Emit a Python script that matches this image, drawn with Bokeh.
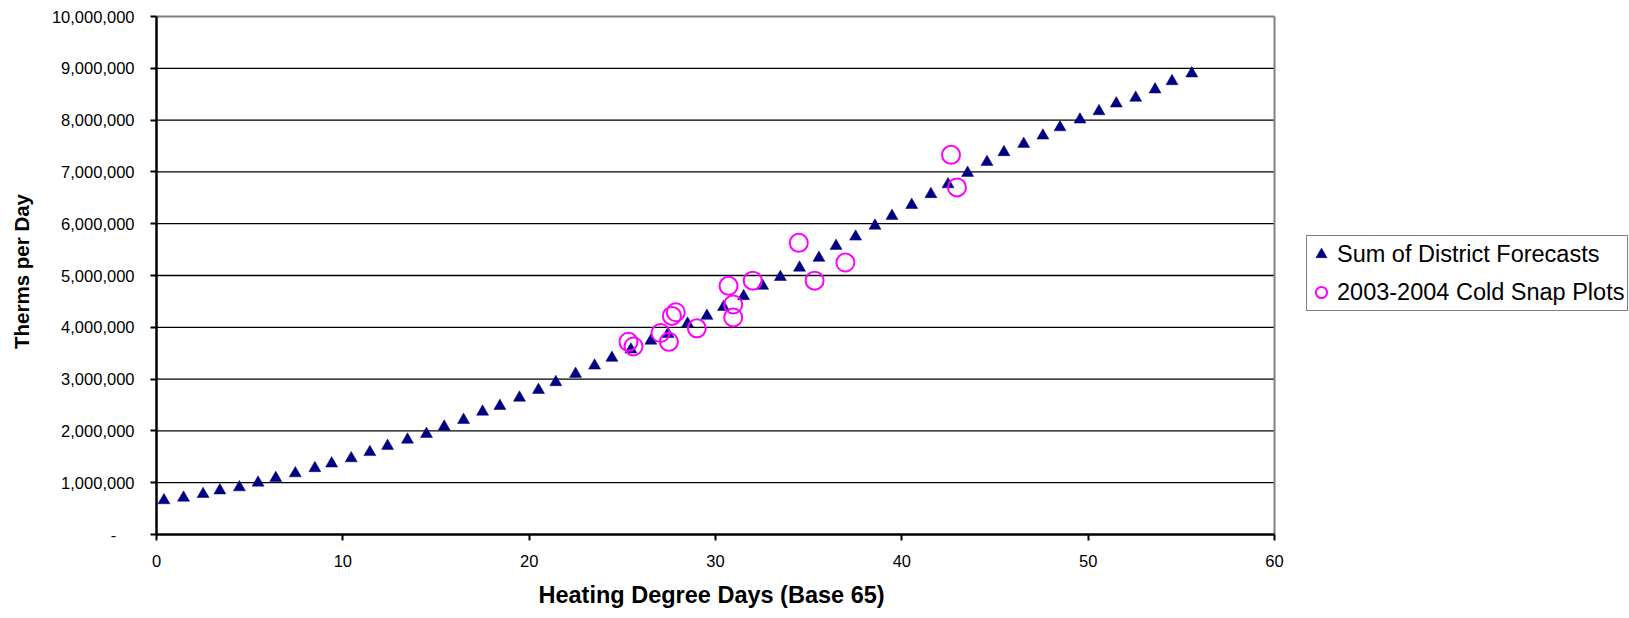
from bokeh.plotting import figure
from bokeh.models import FixedTicker, Legend, LegendItem, Title
from bokeh.embed import file_html
from bokeh.resources import INLINE

# Sum of district forecasts: heating degree days vs. therms per day
hdd_forecast = [0.4, 1.45, 2.5, 3.4, 4.45, 5.45, 6.4, 7.45, 8.5, 9.4,
                10.45, 11.45, 12.4, 13.47, 14.49, 15.44, 16.48, 17.5, 18.43, 19.48,
                20.5, 21.43, 22.49, 23.51, 24.44, 25.46, 26.53, 27.45, 28.5, 29.54,
                30.43, 31.51, 32.53, 33.48, 34.51, 35.55, 36.47, 37.52, 38.56, 39.47,
                40.53, 41.56, 42.48, 43.53, 44.57, 45.48, 46.54, 47.57, 48.49, 49.56,
                50.58, 51.51, 52.55, 53.59, 54.5, 55.56]
therms_forecast = [660_000, 710_000, 780_000, 850_000, 910_000, 1_000_000, 1_090_000, 1_180_000, 1_280_000, 1_370_000,
                   1_470_000, 1_590_000, 1_710_000, 1_830_000, 1_940_000, 2_080_000, 2_210_000, 2_370_000, 2_480_000, 2_640_000,
                   2_790_000, 2_940_000, 3_100_000, 3_260_000, 3_410_000, 3_570_000, 3_740_000, 3_870_000, 4_070_000, 4_220_000,
                   4_390_000, 4_600_000, 4_800_000, 4_970_000, 5_150_000, 5_340_000, 5_570_000, 5_750_000, 5_960_000, 6_150_000,
                   6_360_000, 6_570_000, 6_760_000, 6_980_000, 7_190_000, 7_380_000, 7_540_000, 7_700_000, 7_860_000, 8_010_000,
                   8_170_000, 8_320_000, 8_430_000, 8_590_000, 8_750_000, 8_900_000]

# 2003-2004 cold snap observations
hdd_snap = [25.33, 25.6, 27.05, 27.5, 27.66, 27.87, 29.0, 30.7, 30.95, 30.95,
            32.0, 34.47, 35.32, 36.97, 42.64, 42.96]
therms_snap = [3_720_000, 3_630_000, 3_890_000, 3_720_000, 4_220_000, 4_290_000, 3_980_000, 4_800_000, 4_440_000, 4_190_000,
               4_900_000, 5_630_000, 4_900_000, 5_250_000, 7_330_000, 6_700_000]

x_ticks = [0, 10, 20, 30, 40, 50, 60]
y_ticks = [0, 1_000_000, 2_000_000, 3_000_000, 4_000_000, 5_000_000,
           6_000_000, 7_000_000, 8_000_000, 9_000_000, 10_000_000]
y_tick_labels = ["-\u00a0\u00a0\u00a0\u00a0", "1,000,000", "2,000,000", "3,000,000", "4,000,000", "5,000,000",
                 "6,000,000", "7,000,000", "8,000,000", "9,000,000", "10,000,000"]

FONT = "Liberation Sans"
W, H = 1629, 618

# Plot-area geometry (pixels): the chart area runs from x=0..60 and y=0..10M,
# the frame itself extends further right so the legend can sit beside it.
LEFT, RIGHT_AT_MAX = 156, 1274
TOP_AT_MAX, BOTTOM = 16, 534
FRAME_TOP = 8
x_min, x_max = x_ticks[0], x_ticks[-1]
y_min, y_max = y_ticks[0], y_ticks[-1]
px_per_x = (RIGHT_AT_MAX - LEFT) / (x_max - x_min)
px_per_y = (BOTTOM - TOP_AT_MAX) / (y_max - y_min)
x_end = x_min + (W - LEFT) / px_per_x
y_end = y_min + (BOTTOM - FRAME_TOP) / px_per_y

p = figure(width=W, height=H, x_range=(x_min, x_end), y_range=(y_min, y_end),
           output_backend="svg", toolbar_location=None,
           min_border_left=LEFT, min_border_top=FRAME_TOP, min_border_bottom=H - BOTTOM, min_border_right=0)
p.background_fill_color = "white"
p.border_fill_color = "white"
p.outline_line_color = None
p.grid.visible = False

# horizontal gridlines across the chart area only
grid_y = y_ticks[1:-1]
p.segment(x0=[x_min] * len(grid_y), x1=[x_max] * len(grid_y), y0=grid_y, y1=grid_y,
          line_color="black", line_width=1.3)
# gray border along the top and right of the chart area
p.segment(x0=[x_min, x_max], x1=[x_max, x_max], y0=[y_max, y_min], y1=[y_max, y_max],
          line_color="#808080", line_width=2)

# x axis
p.xaxis.ticker = FixedTicker(ticks=x_ticks)
p.xaxis.bounds = (x_min, x_max)
p.xaxis.major_label_standoff = 14

# y axis
p.yaxis.ticker = FixedTicker(ticks=y_ticks)
p.yaxis.bounds = (y_min, y_max)
p.yaxis.major_label_overrides = {float(t): lab for t, lab in zip(y_ticks, y_tick_labels)}
p.yaxis.axis_label = "Therms per Day"
p.yaxis.axis_label_standoff = 16
p.yaxis.major_label_standoff = 16

for ax in (p.xaxis[0], p.yaxis[0]):
    ax.axis_line_color = "black"
    ax.axis_line_width = 2.5
    ax.major_tick_line_color = "black"
    ax.major_tick_line_width = 2
    ax.major_tick_out = 6
    ax.major_tick_in = 0
    ax.minor_tick_out = 0
    ax.minor_tick_in = 0
    ax.major_label_text_font = FONT
    ax.major_label_text_font_size = "16.5px"
    ax.major_label_text_color = "black"
    ax.axis_label_text_font = FONT
    ax.axis_label_text_font_style = "bold"
    ax.axis_label_text_color = "black"
p.yaxis.axis_label_text_font_size = "20.5px"

# x-axis title, centred under the 0..60 span rather than the whole frame
x_title = Title(text="Heating Degree Days (Base 65)", align="left",
                offset=(RIGHT_AT_MAX - LEFT) / 2 - 177, standoff=21,
                text_font=FONT, text_font_style="bold", text_font_size="23.5px",
                text_color="black")
p.add_layout(x_title, "below")

r_forecast = p.scatter(hdd_forecast, therms_forecast, marker="triangle", size=12,
                       fill_color="#000080", line_color="#000080", line_width=0.5)
r_snap = p.scatter(hdd_snap, therms_snap, marker="circle", size=18,
                   fill_color=None, line_color="#FF00FF", line_width=2)

# legend box beside the chart area, positioned in frame pixels from the bottom-left
legend = Legend(items=[LegendItem(label="Sum of District Forecasts", renderers=[r_forecast]),
                       LegendItem(label="2003-2004 Cold Snap Plots", renderers=[r_snap])],
                location=(1150, 223), orientation="vertical", margin=0, padding=0, spacing=2,
                glyph_width=28, glyph_height=36, label_height=36, label_width=290, label_standoff=2,
                label_text_font=FONT, label_text_font_size="23.5px", label_text_color="black",
                border_line_color="black", border_line_width=1.5,
                background_fill_color="white", background_fill_alpha=1)
p.add_layout(legend)

open("out.html", "w").write(file_html(p, INLINE))
